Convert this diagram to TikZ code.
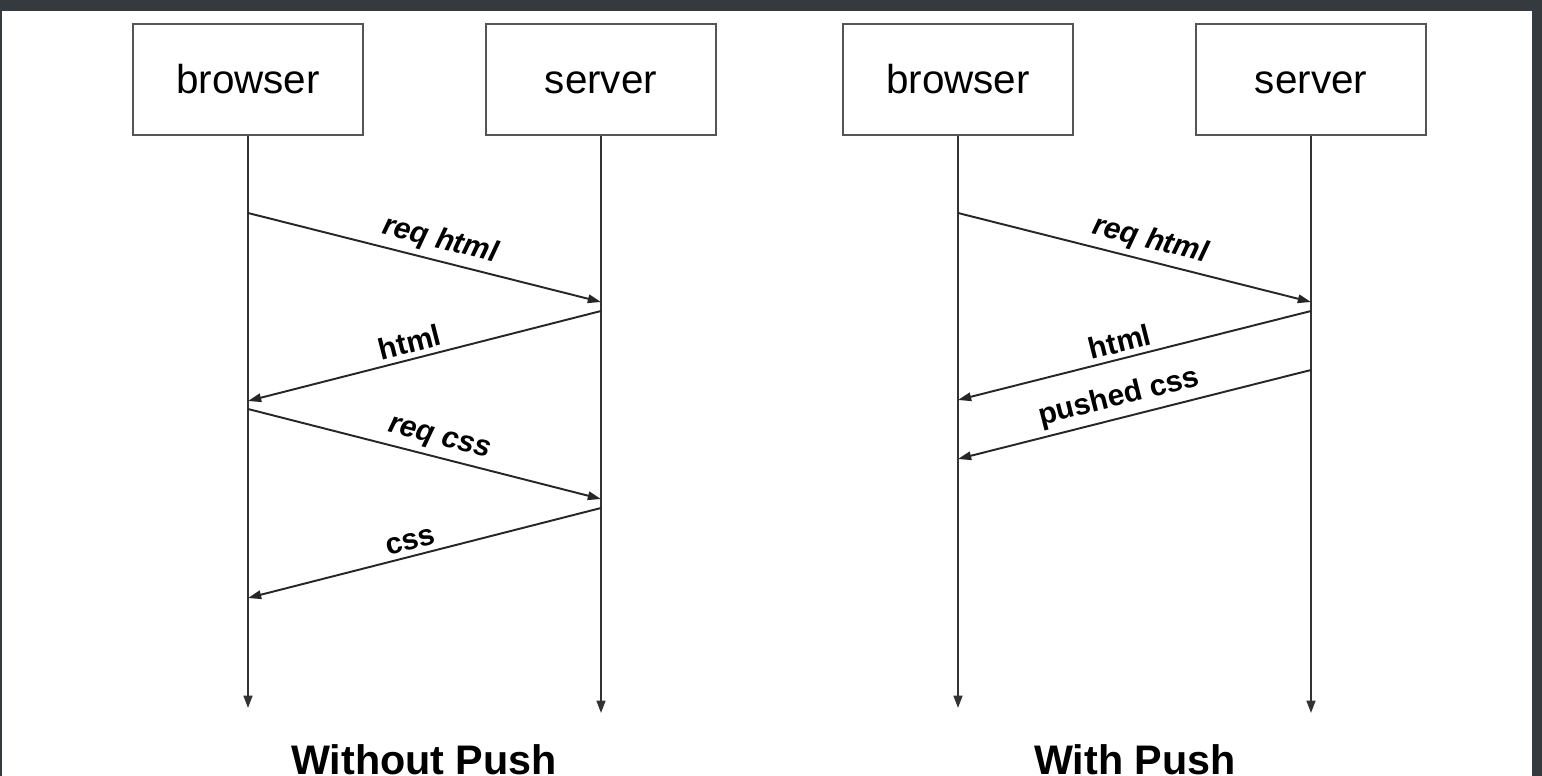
\documentclass[tikz,border=0pt]{standalone}
\usepackage{fontspec}
\setmainfont{Liberation Sans}
\usetikzlibrary{arrows.meta}

\definecolor{framegray}{HTML}{353A3F}
\definecolor{boxgray}{HTML}{555555}
\definecolor{linegray}{HTML}{333333}

\begin{document}
\begin{tikzpicture}[x=0.02cm,y=-0.02cm,
  actor/.style={draw=boxgray,line width=1.1pt,minimum width=4.6cm,minimum height=2.22cm,
    inner sep=0pt,text height=16pt,text depth=0pt,font=\fontsize{23}{27}\selectfont},
  life/.style={draw=linegray,line width=1.1pt,-{Triangle[length=7pt,width=5pt]}},
  msg/.style={draw=black!85,line width=1.1pt,-{Triangle[length=7.5pt,width=4.8pt]}},
  lbl/.style={font=\fontsize{17}{20}\selectfont\bfseries,sloped,above,pos=0.53,inner sep=3pt},
  title/.style={font=\fontsize{23.5}{28}\selectfont\bfseries,anchor=base}]
\useasboundingbox (0,0) rectangle (1542,776);
\clip (0,0) rectangle (1542,776);
% frame
\fill [framegray] (0,0) rectangle (1542,776);
\fill [white] (2,11) rectangle (1532,776);

% without push
\node [actor] (b1) at (248,79.5) {browser};
\node [actor] (s1) at (601,79.5) {server};
\coordinate (b1end) at (248,708);
\coordinate (s1end) at (601,713);
\draw [life] (b1) -- (b1end);
\draw [life] (s1) -- (s1end);
\coordinate (b1a) at (248,213);
\coordinate (s1a) at (601,302);
\coordinate (s1b) at (601,311);
\coordinate (b1b) at (248,401);
\coordinate (b1c) at (248,409);
\coordinate (s1c) at (601,499);
\coordinate (s1d) at (601,508);
\coordinate (b1d) at (248,598);
\draw [msg] (b1a) -- (s1a) node [lbl] {\itshape req html};
\draw [msg] (s1b) -- (b1b) node [lbl] {html};
\draw [msg] (b1c) -- (s1c) node [lbl] {\itshape req css};
\draw [msg] (s1d) -- (b1d) node [lbl] {css};
\node [title] (t1) at (424,774) {Without Push};

% with push
\node [actor] (b2) at (958,79.5) {browser};
\node [actor] (s2) at (1311,79.5) {server};
\coordinate (b2end) at (958,708);
\coordinate (s2end) at (1311,713);
\draw [life] (b2) -- (b2end);
\draw [life] (s2) -- (s2end);
\coordinate (b2a) at (958,213);
\coordinate (s2a) at (1311,302);
\coordinate (s2b) at (1311,311);
\coordinate (b2b) at (958,400);
\coordinate (s2c) at (1311,370);
\coordinate (b2c) at (958,459);
\draw [msg] (b2a) -- (s2a) node [lbl] {\itshape req html};
\draw [msg] (s2b) -- (b2b) node [lbl] {html};
\draw [msg] (s2c) -- (b2c) node [lbl] {pushed css};
\node [title] (t2) at (1135,774) {With Push};
\end{tikzpicture}
\end{document}
